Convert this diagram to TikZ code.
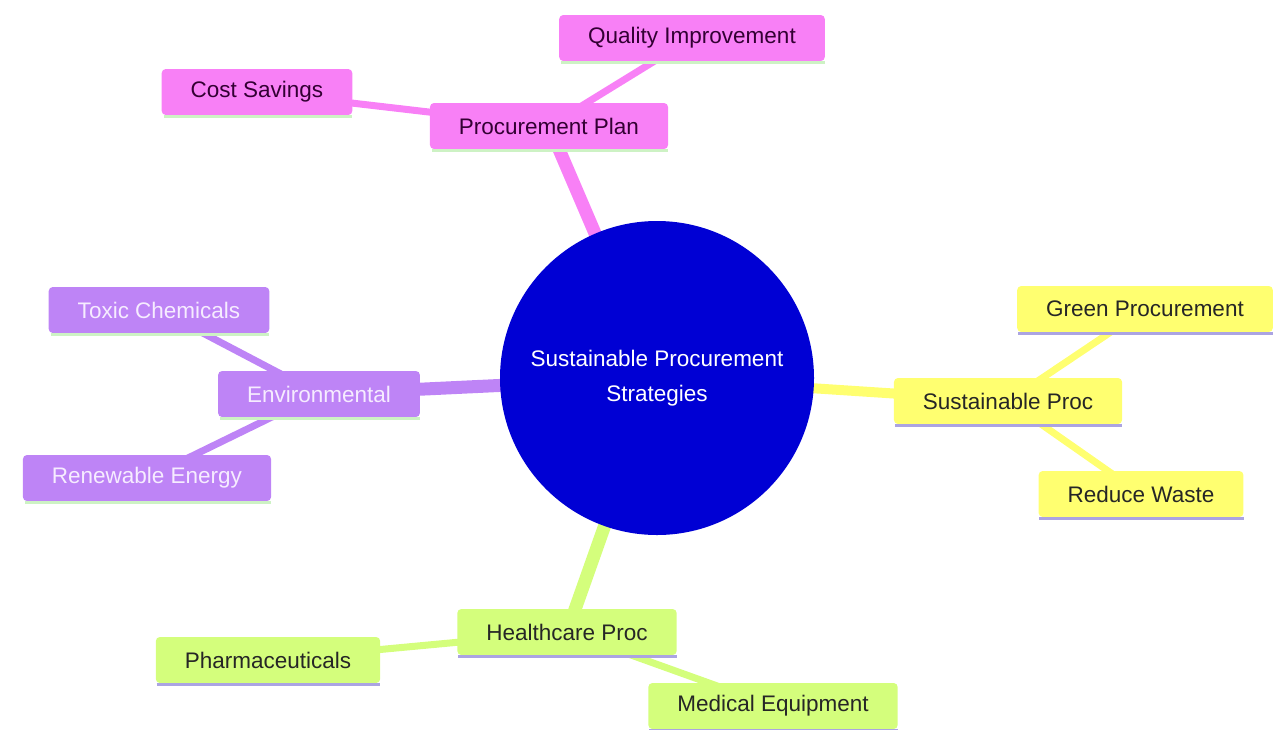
\documentclass[tikz,border=0pt]{standalone}
\usepackage{fontspec}
\setmainfont{Liberation Sans}
\usetikzlibrary{backgrounds}
\definecolor{pinkc}{HTML}{F880F6}
\definecolor{purplec}{HTML}{BE84F6}
\definecolor{yellowc}{HTML}{FFFF70}
\definecolor{greenc}{HTML}{D4FE7C}
\definecolor{rootc}{HTML}{0000D4}
\definecolor{lgreen}{HTML}{CDF2C4}
\definecolor{lav}{HTML}{ABA4E2}
\definecolor{darkpink}{HTML}{330033}
\definecolor{lightpur}{HTML}{F6ECFF}
\tikzset{
  mbox/.style={rectangle, rounded corners=4pt, inner xsep=29pt, inner ysep=0pt,
    minimum height=46pt, font=\fontsize{22.5}{27}\selectfont},
  pinkbox/.style={mbox, fill=pinkc, text=darkpink},
  purbox/.style={mbox, fill=purplec, text=lightpur},
  yelbox/.style={mbox, fill=yellowc, text=black!85},
  grnbox/.style={mbox, fill=greenc, text=black!85},
  main/.style={line width=13pt},
  leaf/.style={line width=7pt},
  uline/.style={line width=3pt},
}
\begin{document}
\begin{tikzpicture}[x=1pt,y=-1pt]
\useasboundingbox (0,0) rectangle (1276,729);
\node[circle, fill=rootc, minimum size=314pt, inner sep=0pt, text=white, align=center,
  font=\fontsize{22.5}{35}\selectfont] (root) at (657,378) {Sustainable Procurement\\Strategies};

\node[pinkbox] (pp) at (549,126) {Procurement Plan};
\node[pinkbox] (qi) at (692,38) {Quality Improvement};
\node[pinkbox] (cs) at (257,92) {Cost Savings};

\node[purbox] (env) at (319,394) {Environmental};
\node[purbox] (tc) at (159,310) {Toxic Chemicals};
\node[purbox] (re) at (147,478) {Renewable Energy};

\node[yelbox] (sp) at (1008,401) {Sustainable Proc};
\node[yelbox] (gp) at (1145,309) {Green Procurement};
\node[yelbox] (rw) at (1141,494) {Reduce Waste};

\node[grnbox] (hp) at (567,632) {Healthcare Proc};
\node[grnbox] (ph) at (268,660) {Pharmaceuticals};
\node[grnbox] (me) at (773,706) {Medical Equipment};

\begin{pgfonlayer}{background}
  \draw[main, pinkc] (root.center) -- (pp.center);
  \draw[leaf, pinkc] (pp.center) -- (qi.center);
  \draw[leaf, pinkc] (pp.center) -- (cs.center);
  \draw[main, purplec] (root.center) -- (env.center);
  \draw[leaf, purplec] (env.center) -- (tc.center);
  \draw[leaf, purplec] (env.center) -- (re.center);
  \draw[line width=10pt, yellowc] (root.center) -- (sp.center);
  \draw[leaf, yellowc] (sp.center) -- (gp.center);
  \draw[leaf, yellowc] (sp.center) -- (rw.center);
  \draw[main, greenc] (root.center) -- (hp.center);
  \draw[leaf, greenc] (hp.center) -- (ph.center);
  \draw[leaf, greenc] (hp.center) -- (me.center);
\end{pgfonlayer}

\foreach \n in {pp,qi,cs,env,tc,re}{
  \draw[uline, lgreen] ([xshift=2pt,yshift=-1pt]\n.south west) -- ([yshift=-1pt]\n.south east);
}
\foreach \n in {sp,gp,rw,hp,ph,me}{
  \draw[uline, lav] ([xshift=1pt,yshift=-1pt]\n.south west) -- ([yshift=-1pt]\n.south east);
}
\end{tikzpicture}
\end{document}
